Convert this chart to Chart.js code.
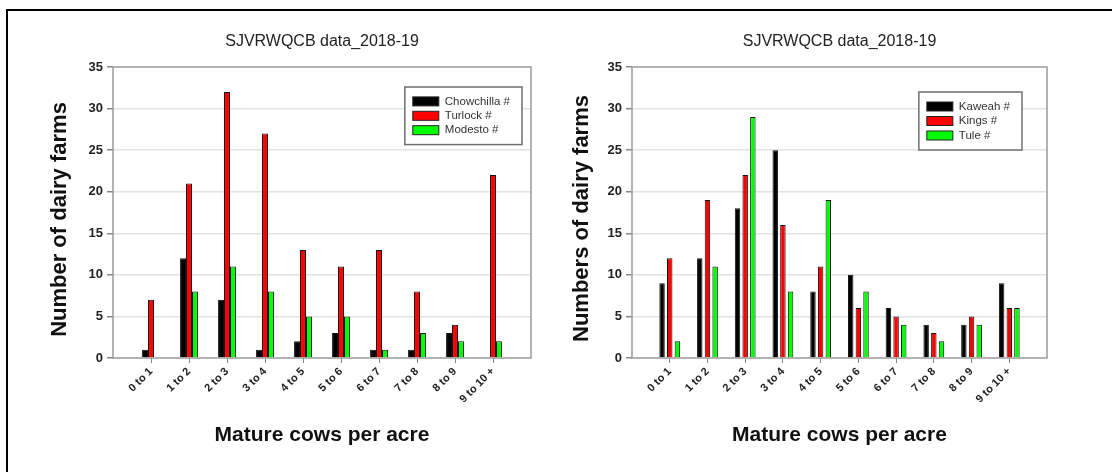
<!DOCTYPE html>
<html>
<head>
<meta charset="utf-8">
<script src="https://cdn.jsdelivr.net/npm/chart.js@4"></script>
<style>
  html, body { margin: 0; padding: 0; background: #fff; }
  body { width: 1112px; height: 472px; position: relative; overflow: hidden; }
  #frame { position: absolute; left: 6px; top: 9px; width: 1200px; height: 600px;
           border-top: 2px solid #000; border-left: 2px solid #000; }
  canvas { position: absolute; top: 0; }
  #northChart { left: 0; }
  #southChart { left: 556px; }
</style>
</head>
<body>
<div id="frame"></div>
<canvas id="northChart" width="556" height="472"></canvas>
<canvas id="southChart" width="556" height="472"></canvas>
<script>
// Herd density bins (mature cows per acre)
const sizeBins = ['0 to 1', '1 to 2', '2 to 3', '3 to 4', '4 to 5',
                  '5 to 6', '6 to 7', '7 to 8', '8 to 9', '9 to 10 +'];

// Northern San Joaquin Valley counts
const chowchilla = [1, 12, 7, 1, 2, 3, 1, 1, 3, 0];
const turlock    = [7, 21, 32, 27, 13, 11, 13, 8, 4, 22];
const modesto    = [0, 8, 11, 8, 5, 5, 1, 3, 2, 2];

// Southern San Joaquin Valley counts
const kaweah = [9, 12, 18, 25, 8, 10, 6, 4, 4, 9];
const kings  = [12, 19, 22, 16, 11, 6, 5, 3, 5, 6];
const tule   = [2, 11, 29, 8, 19, 8, 4, 2, 4, 6];

const chartTitle = 'SJVRWQCB data_2018-19';
const xTitle = 'Mature cows per acre';
const yTitleNorth = 'Number of dairy farms';
const yTitleSouth = 'Numbers of dairy farms';
const yMin = 0, yMax = 35, yStep = 5;

const FONT = "'Liberation Sans', Arial, sans-serif";
const BLACK = '#000000', RED = '#ff0000', GREEN = '#00ff00';

// one empty slot on each side so the groups sit a full bin in from the frame
const paddedLabels = ['', ...sizeBins, ''];
const pad = arr => [null, ...arr, null];

// gray rectangle around the plotting area
const plotFrame = {
  id: 'plotFrame',
  beforeDatasetsDraw(chart) {
    const { ctx, chartArea: a } = chart;
    ctx.save();
    ctx.strokeStyle = '#9a9a9a';
    ctx.lineWidth = 1.5;
    ctx.strokeRect(a.left, a.top, a.right - a.left, a.bottom - a.top);
    ctx.restore();
  }
};

// vertical axis caption, placed a little below the plot's middle
const sideTitle = {
  id: 'sideTitle',
  afterDraw(chart, args, opts) {
    const { ctx, chartArea: a } = chart;
    ctx.save();
    ctx.translate(opts.x, (a.top + a.bottom) / 2 + opts.shift);
    ctx.rotate(-Math.PI / 2);
    ctx.font = `bold ${opts.size}px ${FONT}`;
    ctx.fillStyle = '#111';
    ctx.textAlign = 'center';
    ctx.textBaseline = 'middle';
    ctx.fillText(opts.text, 0, 0);
    ctx.restore();
  }
};

// boxed legend inside the top-right corner of the plot
const boxLegend = {
  id: 'boxLegend',
  afterDatasetsDraw(chart, args, opts) {
    const { ctx, chartArea } = chart;
    const items = chart.data.datasets;
    ctx.save();
    ctx.font = `${opts.fontSize}px ${FONT}`;
    const textW = Math.max(...items.map(d => ctx.measureText(d.label).width));
    const w = opts.padLeft + opts.swatchW + opts.gap + textW + opts.padRight;
    const h = opts.rowH * (items.length + 1);
    const x = chartArea.right - opts.right - w;
    const y = chartArea.top + opts.top;
    ctx.fillStyle = '#fff';
    ctx.fillRect(x, y, w, h);
    ctx.strokeStyle = '#6f6f6f';
    ctx.lineWidth = 1.5;
    ctx.strokeRect(x, y, w, h);
    items.forEach((d, i) => {
      const cy = y + opts.rowH * (i + 1);
      const sx = x + opts.padLeft;
      ctx.fillStyle = d.backgroundColor;
      ctx.fillRect(sx, cy - 4.5, opts.swatchW, 9);
      ctx.strokeStyle = '#222';
      ctx.lineWidth = 1;
      ctx.strokeRect(sx, cy - 4.5, opts.swatchW, 9);
      ctx.fillStyle = '#333';
      ctx.textBaseline = 'middle';
      ctx.textAlign = 'left';
      ctx.fillText(d.label, sx + opts.swatchW + opts.gap, cy);
    });
    ctx.restore();
  }
};

function makeChart(id, series, geo) {
  return new Chart(document.getElementById(id), {
    type: 'bar',
    data: {
      labels: paddedLabels,
      datasets: series.map(s => ({
        label: s.label,
        data: pad(s.values),
        backgroundColor: s.color,
        borderColor: '#111',
        borderWidth: 1,
        categoryPercentage: geo.catPct,
        barPercentage: geo.barPct
      }))
    },
    options: {
      responsive: false,
      animation: false,
      layout: { padding: { left: 0, right: geo.padRight, top: 0, bottom: 0 } },
      plugins: {
        legend: { display: false },
        tooltip: { enabled: false },
        title: {
          display: true,
          fullSize: false,
          text: chartTitle,
          color: '#222',
          font: { family: FONT, size: 16, weight: 'normal', lineHeight: 1.2 },
          padding: { top: 32.4, bottom: 15.4 }
        },
        sideTitle: { text: geo.yTitle, x: geo.yTitleX, shift: geo.yTitleShift, size: 22 },
        boxLegend: geo.legend
      },
      scales: {
        x: {
          offset: false,
          grid: {
            offset: false,
            drawOnChartArea: false,
            tickLength: 5,
            tickColor: c => (paddedLabels[c.index] === '' ? 'rgba(0,0,0,0)' : '#888')
          },
          border: { display: false },
          ticks: {
            autoSkip: false,
            maxRotation: 45,
            minRotation: 45,
            padding: 2,
            color: '#222',
            font: { family: FONT, size: 11, weight: 'bold' }
          },
          title: {
            display: true,
            text: xTitle,
            color: '#111',
            font: { family: FONT, size: 21, weight: 'bold', lineHeight: 1.2 },
            padding: { top: 0, bottom: 24.4 }
          },
          afterFit: s => { s.height = 114; }
        },
        y: {
          min: yMin,
          max: yMax,
          grid: {
            color: c => (c.tick && (c.tick.value === yMin || c.tick.value === yMax) ? 'rgba(0,0,0,0)' : '#e2e2e2'),
            lineWidth: 1.5,
            tickLength: 6,
            tickColor: '#888'
          },
          border: { display: false },
          ticks: {
            stepSize: yStep,
            padding: 4,
            color: '#222',
            font: { family: FONT, size: 13, weight: 'bold' }
          },
          afterFit: s => { s.width = geo.yWidth; }
        }
      }
    },
    plugins: [plotFrame, boxLegend, sideTitle]
  });
}

makeChart('northChart', [
  { label: 'Chowchilla #', values: chowchilla, color: BLACK },
  { label: 'Turlock #', values: turlock, color: RED },
  { label: 'Modesto #', values: modesto, color: GREEN }
], {
  padRight: 25, yWidth: 113, yTitle: yTitleNorth, yTitleX: 60, yTitleShift: 7,
  catPct: 0.47, barPct: 1.0,
  legend: { fontSize: 11.5, padLeft: 8, swatchW: 26, gap: 6, padRight: 12, rowH: 14.4, right: 9, top: 20 }
});

makeChart('southChart', [
  { label: 'Kaweah #', values: kaweah, color: BLACK },
  { label: 'Kings #', values: kings, color: RED },
  { label: 'Tule #', values: tule, color: GREEN }
], {
  padRight: 65, yWidth: 76, yTitle: yTitleSouth, yTitleX: 26, yTitleShift: 6,
  catPct: 0.61, barPct: 0.71,
  legend: { fontSize: 11.5, padLeft: 8, swatchW: 26, gap: 6, padRight: 12, rowH: 14.5, right: 25, top: 25 }
});
</script>
</body>
</html>
